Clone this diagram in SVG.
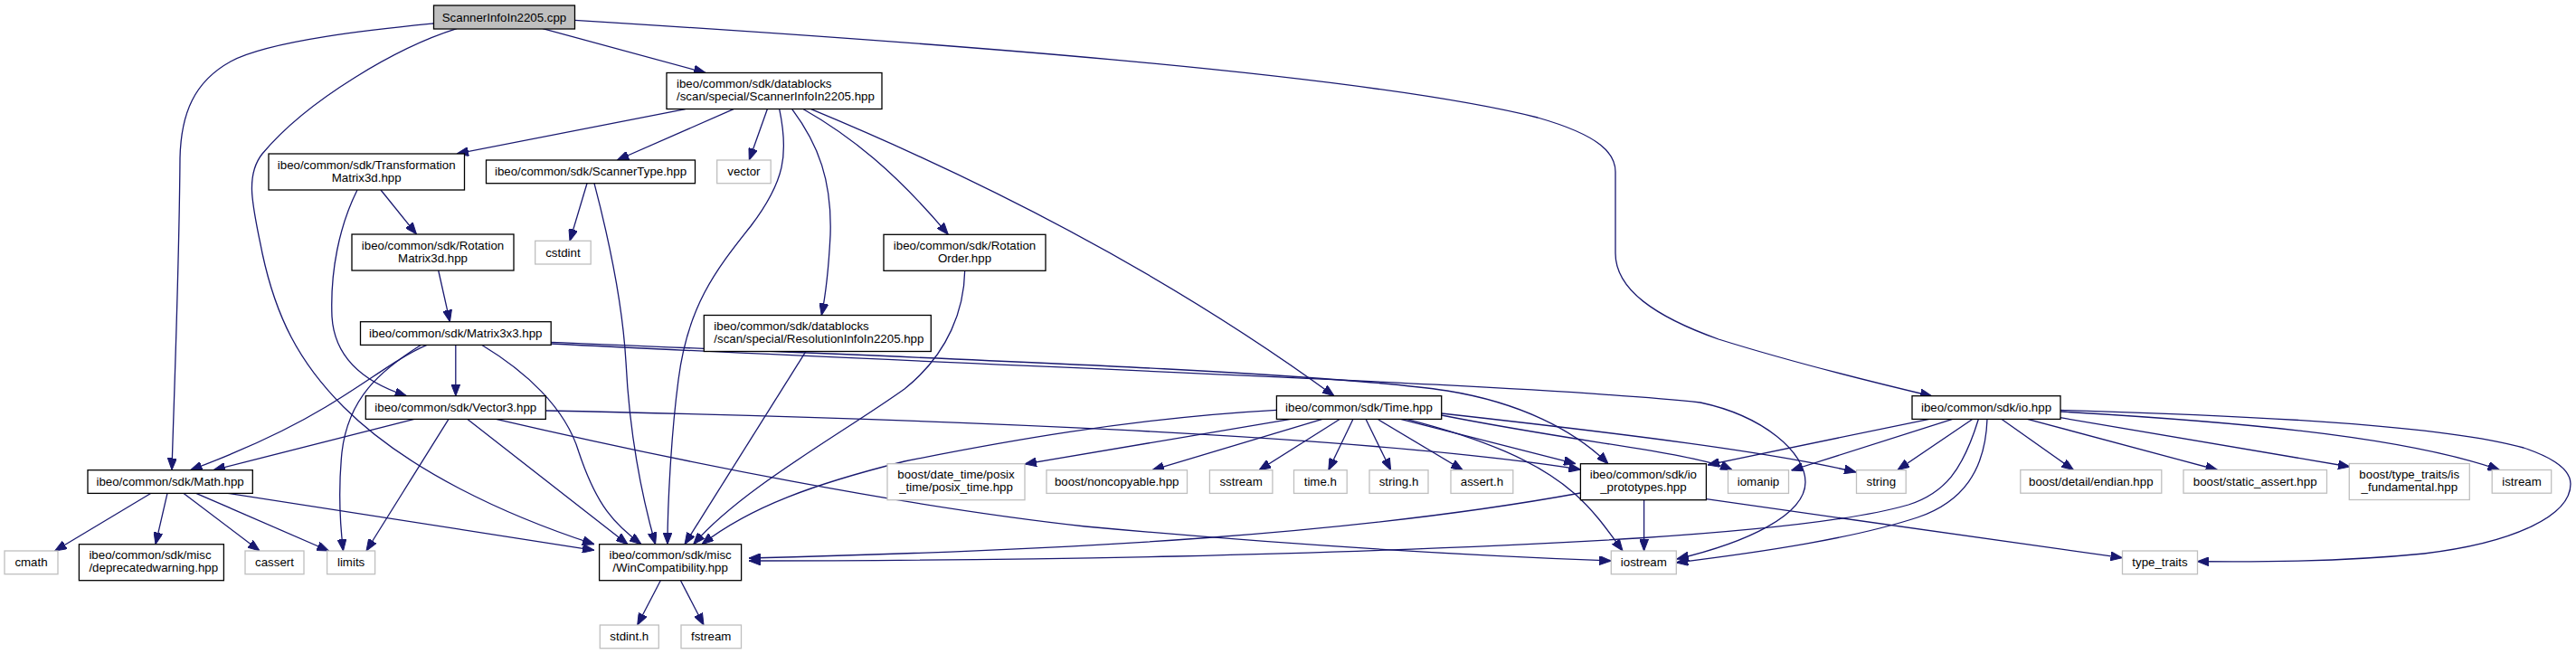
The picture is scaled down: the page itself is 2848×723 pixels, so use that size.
<svg xmlns="http://www.w3.org/2000/svg" width="2848" height="723" viewBox="0 0 2848 723">
<style>
.n rect{fill:#fff;stroke:#000;stroke-width:1.3}
.x rect{fill:#fff;stroke:#bfbfbf;stroke-width:1.3}
.r rect{fill:#bfbfbf;stroke:#000;stroke-width:1.3}
text{font-family:"Liberation Sans",Arial,Helvetica,sans-serif;font-size:13.3px;fill:#000}
.c{text-anchor:middle}
#edges path{fill:none;stroke:#191970;stroke-width:1.3;marker-end:url(#ah)}
</style>
<defs>
<marker id="ah" markerUnits="userSpaceOnUse" viewBox="0 0 13 10" markerWidth="13" markerHeight="10" refX="13" refY="5" orient="auto">
<path d="M0,0 L13,5 L0,10 Z" fill="#191970" stroke="#191970" stroke-width="1"/>
</marker>
</defs>
<rect width="2848" height="723" fill="#fff"/>
<g id="edges">
<path d="M600,31.7 L780,80.5"/>
<path d="M479,26 C420,32 300,44 255,68 C215,90 200,125 199,175 C198,300 193,420 190,519.5"/>
<path d="M505,31.7 C440,52 340,110 290,170 C270,195 280,230 290,280 C305,350 330,400 380,450 C450,520 560,570 657,601.7"/>
<path d="M635.3,22.3 C1000,45 1500,80 1700,130 C1770,150 1786,170 1786,190 L1786,280 C1786,320 1830,350 1900,375 C1980,400 2060,420 2136,438"/>
<path d="M757.7,120.7 L505,170"/>
<path d="M811,120.7 L682.4,177"/>
<path d="M848.3,120.7 L828.3,177"/>
<path d="M861.7,120.7 C872,170 868,200 830,250 C790,300 760,340 750,420 C742,480 738,560 738,601.7"/>
<path d="M875.7,120.7 C905,160 920,200 918,260 C916,300 912,330 908.3,348.5"/>
<path d="M888.3,120.7 C940,150 990,190 1048.3,259.3"/>
<path d="M896.7,120.7 C1100,205 1300,310 1475,437.7"/>
<path d="M421,210 L460.5,259"/>
<path d="M395,210 C375,250 365,300 367,350 C370,400 410,425 449.6,437.7"/>
<path d="M649,202.7 L630,266.3"/>
<path d="M657,202.7 C672,260 688,330 692,400 C696,480 710,550 724.6,601.7"/>
<path d="M484.7,299 L497.4,355.7"/>
<path d="M503.8,381.3 L503.8,437.7"/>
<path d="M472,381.3 C440,395 410,420 360,450 C310,480 250,505 210.5,519.7"/>
<path d="M465.6,381.3 C420,410 385,440 378,500 C374,540 376,580 379.5,609"/>
<path d="M532.5,381.3 C580,410 625,450 640,500 C660,560 680,580 709,601.7"/>
<path d="M609,378.3 C1000,395 1450,410 1600,432 C1680,445 1740,475 1778,512.7"/>
<path d="M609,380 C1100,405 1700,425 1880,445 C1950,460 1996,500 1996,533 C1996,570 1930,600 1854,618"/>
<path d="M458,463.3 L236,519.7"/>
<path d="M496,463.3 L405,609"/>
<path d="M516.6,463.3 L694,601.7"/>
<path d="M603.3,454 C1000,462 1500,480 1747.4,519"/>
<path d="M548.5,463.3 C750,510 1000,560 1200,582 C1450,605 1650,615 1781.3,620"/>
<path d="M167,545.3 L60.6,609"/>
<path d="M185,545.3 L172,601.7"/>
<path d="M202.8,545.3 L287,609"/>
<path d="M216.8,545.3 L363.5,609"/>
<path d="M252,545.3 L657,608.3"/>
<path d="M730.2,642 L704.7,691"/>
<path d="M752.6,642 L778,691"/>
<path d="M891,388.3 L757,601.7"/>
<path d="M1066.7,299 C1066,340 1050,390 1000,430 C930,480 820,540 766.7,601.7"/>
<path d="M1427,463.3 L1133,513"/>
<path d="M1462,463.3 L1274,519.7"/>
<path d="M1481.5,463.3 L1392,519.7"/>
<path d="M1496,463.3 L1468.8,519.7"/>
<path d="M1510,463.3 L1537.6,519.7"/>
<path d="M1523,463.3 L1617.3,519.7"/>
<path d="M1548.5,463.3 L1742,512.7"/>
<path d="M1593.7,459 C1750,490 1870,500 1915,519.5"/>
<path d="M1593.7,457 C1800,480 1960,500 2052,522"/>
<path d="M1555,463.3 C1640,485 1700,510 1740,545 C1765,567 1780,590 1794,609"/>
<path d="M1411.4,453.3 C1250,462 1100,490 1000,510 C900,535 830,560 776,601.7"/>
<path d="M1817.6,552.7 L1817.6,609"/>
<path d="M1747.4,545 C1500,590 1200,608 828,617"/>
<path d="M1886.5,551.7 L2346.5,616.7"/>
<path d="M2133,463.3 L1888,514"/>
<path d="M2158.7,463.3 L1980.5,520"/>
<path d="M2181,463.3 L2098,519.5"/>
<path d="M2187.4,463.3 C2170,520 2150,545 2110,558 C2000,590 1700,605 1300,615 C1100,619 950,620 828,620"/>
<path d="M2197,463.3 C2195,520 2170,555 2120,572 C2050,595 1950,610 1853.3,622"/>
<path d="M2212.8,463.3 L2292.4,519.5"/>
<path d="M2241.5,463.3 L2451.5,519.5"/>
<path d="M2277.8,461.7 L2598,516"/>
<path d="M2277.8,455 C2450,465 2650,480 2763.5,519.5"/>
<path d="M2277.8,453.3 C2500,460 2700,470 2790,495 C2835,510 2842,525 2842,535 C2842,570 2780,600 2680,612 C2580,622 2480,621 2429.3,620.7"/>
</g>
<g id="n_cpp" class="r"><rect x="479.5" y="6" width="156" height="26"/><text class="c" x="557.5" y="23.5">ScannerInfoIn2205.cpp</text></g>
<g id="n_sihpp" class="n"><rect x="737" y="80.5" width="238" height="40"/><text x="748" y="97">ibeo/common/sdk/datablocks</text><text x="748" y="111">/scan/special/ScannerInfoIn2205.hpp</text></g>
<g id="n_trans" class="n"><rect x="297" y="170" width="216.5" height="40"/><text class="c" x="405.2" y="186.5">ibeo/common/sdk/Transformation</text><text class="c" x="405.2" y="200.5">Matrix3d.hpp</text></g>
<g id="n_stype" class="n"><rect x="537.5" y="177" width="231" height="25.7"/><text class="c" x="653" y="194.3">ibeo/common/sdk/ScannerType.hpp</text></g>
<g id="n_vector" class="x"><rect x="792.7" y="177" width="59.5" height="25.7"/><text class="c" x="822.4" y="194.3">vector</text></g>
<g id="n_rot" class="n"><rect x="389" y="259" width="179" height="40"/><text class="c" x="478.5" y="275.5">ibeo/common/sdk/Rotation</text><text class="c" x="478.5" y="289.5">Matrix3d.hpp</text></g>
<g id="n_cstdint" class="x"><rect x="591.7" y="266.3" width="61.5" height="25.7"/><text class="c" x="622.4" y="283.6">cstdint</text></g>
<g id="n_rorder" class="n"><rect x="977" y="259.3" width="179" height="40"/><text class="c" x="1066.5" y="275.8">ibeo/common/sdk/Rotation</text><text class="c" x="1066.5" y="289.8">Order.hpp</text></g>
<g id="n_mat" class="n"><rect x="398.5" y="355.7" width="210.7" height="25.7"/><text class="c" x="503.8" y="373">ibeo/common/sdk/Matrix3x3.hpp</text></g>
<g id="n_res" class="n"><rect x="778.3" y="348.5" width="251" height="40"/><text x="789.3" y="365">ibeo/common/sdk/datablocks</text><text x="789.3" y="379">/scan/special/ResolutionInfoIn2205.hpp</text></g>
<g id="n_vec3" class="n"><rect x="404.3" y="437.7" width="199" height="25.7"/><text class="c" x="503.8" y="455">ibeo/common/sdk/Vector3.hpp</text></g>
<g id="n_time" class="n"><rect x="1411.4" y="437.7" width="182.3" height="25.7"/><text class="c" x="1502.5" y="455">ibeo/common/sdk/Time.hpp</text></g>
<g id="n_io" class="n"><rect x="2114" y="437.7" width="164" height="25.7"/><text class="c" x="2196" y="455">ibeo/common/sdk/io.hpp</text></g>
<g id="n_math" class="n"><rect x="97" y="519.7" width="182.3" height="25.7"/><text class="c" x="188.1" y="537">ibeo/common/sdk/Math.hpp</text></g>
<g id="n_posix" class="x"><rect x="981" y="512.7" width="152" height="40"/><text class="c" x="1057" y="529.2">boost/date_time/posix</text><text class="c" x="1057" y="543.2">_time/posix_time.hpp</text></g>
<g id="n_noncopy" class="x"><rect x="1157" y="519.7" width="155.5" height="25.7"/><text class="c" x="1234.7" y="537">boost/noncopyable.hpp</text></g>
<g id="n_sstream" class="x"><rect x="1337.4" y="519.7" width="69.5" height="25.7"/><text class="c" x="1372.1" y="537">sstream</text></g>
<g id="n_timeh" class="x"><rect x="1430.5" y="519.7" width="58.7" height="25.7"/><text class="c" x="1459.8" y="537">time.h</text></g>
<g id="n_stringh" class="x"><rect x="1514" y="519.7" width="65" height="25.7"/><text class="c" x="1546.5" y="537">string.h</text></g>
<g id="n_asserth" class="x"><rect x="1604" y="519.7" width="68.8" height="25.7"/><text class="c" x="1638.4" y="537">assert.h</text></g>
<g id="n_iop" class="n"><rect x="1747.4" y="512.7" width="139" height="40"/><text class="c" x="1816.9" y="529.2">ibeo/common/sdk/io</text><text class="c" x="1816.9" y="543.2">_prototypes.hpp</text></g>
<g id="n_iomanip" class="x"><rect x="1910.5" y="519.7" width="67" height="25.7"/><text class="c" x="1944" y="537">iomanip</text></g>
<g id="n_string" class="x"><rect x="2052.5" y="519.7" width="54.7" height="25.7"/><text class="c" x="2079.8" y="537">string</text></g>
<g id="n_endian" class="x"><rect x="2233.8" y="519.5" width="156" height="25.7"/><text class="c" x="2311.8" y="536.8">boost/detail/endian.hpp</text></g>
<g id="n_sassert" class="x"><rect x="2414" y="519.5" width="158.5" height="25.7"/><text class="c" x="2493.2" y="536.8">boost/static_assert.hpp</text></g>
<g id="n_isfund" class="x"><rect x="2597.3" y="512.5" width="133" height="40"/><text class="c" x="2663.8" y="529">boost/type_traits/is</text><text class="c" x="2663.8" y="543">_fundamental.hpp</text></g>
<g id="n_istream" class="x"><rect x="2755.2" y="519.5" width="65.5" height="25.7"/><text class="c" x="2788" y="536.8">istream</text></g>
<g id="n_cmath" class="x"><rect x="5" y="609" width="59" height="25.7"/><text class="c" x="34.5" y="626.3">cmath</text></g>
<g id="n_deprec" class="n"><rect x="87.4" y="601.7" width="160" height="40"/><text x="98.4" y="618.2">ibeo/common/sdk/misc</text><text x="98.4" y="632.2">/deprecatedwarning.hpp</text></g>
<g id="n_cassert" class="x"><rect x="271" y="609" width="65" height="25.7"/><text class="c" x="303.5" y="626.3">cassert</text></g>
<g id="n_limits" class="x"><rect x="361.6" y="609" width="53" height="25.7"/><text class="c" x="388.1" y="626.3">limits</text></g>
<g id="n_wincomp" class="n"><rect x="662.6" y="601.7" width="157" height="40"/><text class="c" x="741.1" y="618.2">ibeo/common/sdk/misc</text><text class="c" x="741.1" y="632.2">/WinCompatibility.hpp</text></g>
<g id="n_iostream" class="x"><rect x="1781.3" y="609" width="72" height="25.7"/><text class="c" x="1817.3" y="626.3">iostream</text></g>
<g id="n_typetraits" class="x"><rect x="2346.5" y="609" width="83" height="25.7"/><text class="c" x="2388" y="626.3">type_traits</text></g>
<g id="n_stdint" class="x"><rect x="663.3" y="691" width="65" height="25.7"/><text class="c" x="695.8" y="708.3">stdint.h</text></g>
<g id="n_fstream" class="x"><rect x="753" y="691" width="66.5" height="25.7"/><text class="c" x="786.2" y="708.3">fstream</text></g>
</svg>
